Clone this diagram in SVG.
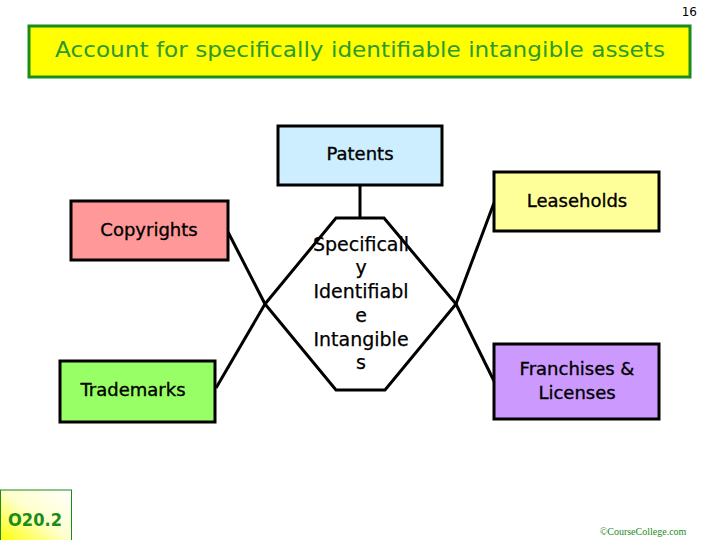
<svg xmlns="http://www.w3.org/2000/svg" width="720" height="540" viewBox="0 0 720 540">
<defs>
<linearGradient id="og" x1="1" y1="0" x2="0" y2="1">
<stop offset="0" stop-color="#ffffff"/>
<stop offset="0.5" stop-color="#ffffcc"/>
<stop offset="1" stop-color="#ffff00"/>
</linearGradient>
<style>
.box{stroke:#000;stroke-width:3}
.lbl{font-family:"DejaVu Sans",Verdana,sans-serif;font-size:18px;fill:#000;text-anchor:middle;stroke:#000;stroke-width:0.35}
.hex{font-family:"DejaVu Sans",Verdana,sans-serif;font-size:19px;fill:#000;text-anchor:middle;stroke:#000;stroke-width:0.25}
.con{stroke:#000;stroke-width:3;fill:none}
</style>
</defs>
<rect width="720" height="540" fill="#fff"/>
<text x="697" y="16" font-family="'DejaVu Sans',sans-serif" font-size="12" text-anchor="end" fill="#000">16</text>
<g id="title">
<rect x="29" y="26" width="661" height="51" fill="#ffff00" stroke="#1a8c1a" stroke-width="3"/>
<text x="360" y="57" font-family="'DejaVu Sans',sans-serif" font-size="22" fill="#2e9a2e" text-anchor="middle" textLength="610" lengthAdjust="spacingAndGlyphs">Account for specifically identifiable intangible assets</text>
</g>
<g id="connectors">
<line class="con" x1="360" y1="185" x2="360" y2="218"/>
<line class="con" x1="228" y1="232" x2="265" y2="304"/>
<line class="con" x1="216" y1="388" x2="265" y2="304"/>
<line class="con" x1="494" y1="203" x2="456" y2="304"/>
<line class="con" x1="494" y1="381" x2="456" y2="304"/>
</g>
<g id="center">
<polygon points="336,218 384,218 456,304 385,390 336,390 265,304" fill="#fff" stroke="#000" stroke-width="3"/>
<text class="hex" x="361" y="251">Specificall</text>
<text class="hex" x="361" y="274">y</text>
<text class="hex" x="361" y="298">Identifiabl</text>
<text class="hex" x="361" y="322">e</text>
<text class="hex" x="361" y="346">Intangible</text>
<text class="hex" x="361" y="369">s</text>
</g>
<g id="patents">
<rect class="box" x="278" y="126" width="164" height="59" fill="#cceeff"/>
<text class="lbl" x="360" y="160">Patents</text>
</g>
<g id="leaseholds">
<rect class="box" x="494" y="172" width="165" height="59" fill="#ffff99"/>
<text class="lbl" x="577" y="207">Leaseholds</text>
</g>
<g id="copyrights">
<rect class="box" x="71" y="201" width="157" height="59" fill="#ff9999"/>
<text class="lbl" x="149" y="236">Copyrights</text>
</g>
<g id="trademarks">
<rect class="box" x="60" y="361" width="155" height="61" fill="#99ff66"/>
<text class="lbl" x="133" y="396">Trademarks</text>
</g>
<g id="franchises">
<rect class="box" x="494" y="344" width="165" height="75" fill="#cc99ff"/>
<text class="lbl" x="577" y="375">Franchises &amp;</text>
<text class="lbl" x="577" y="399">Licenses</text>
</g>
<g id="code">
<rect x="0.5" y="490" width="71" height="52" fill="url(#og)" stroke="#1a8c1a" stroke-width="1"/>
<text x="35" y="526" font-family="'DejaVu Sans',sans-serif" font-size="18" font-weight="bold" fill="#1a8c1a" text-anchor="middle" textLength="54" lengthAdjust="spacingAndGlyphs">O20.2</text>
</g>
<text x="643" y="535" font-family="'Liberation Serif',serif" font-size="10" fill="#1a8c1a" text-anchor="middle">©CourseCollege.com</text>
</svg>
